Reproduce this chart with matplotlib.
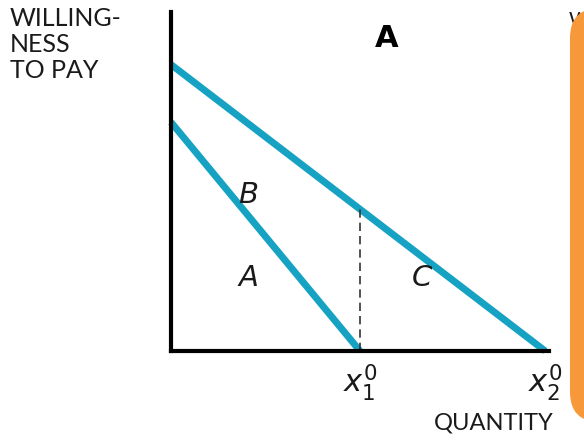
import matplotlib
matplotlib.use("Agg")
import matplotlib.pyplot as plt
from matplotlib.patches import FancyBboxPatch
from matplotlib.transforms import IdentityTransform

# Data
quantities = [1.0, 1.98]          # x1^0, x2^0 (demand intercepts on quantity axis)
wtp_intercepts = [6.75, 8.45]     # willingness-to-pay intercepts (lower, upper)
tick_labels = [r"$x_1^0$", r"$x_2^0$"]
area_labels = ["A", "B", "C"]
area_pos = [(0.41, 2.15), (0.41, 4.6), (1.33, 2.15)]

line_color = "#16A2C3"

fig = plt.figure(figsize=(5.84, 4.40), dpi=100)
ax = fig.add_axes([171/584, 89/440, 378/584, 339/440])
ax.set_xlim(0, 2.0)
ax.set_ylim(0, 10)

for q, w in zip(quantities, wtp_intercepts):
    ax.plot([0, q], [w, 0], color=line_color, lw=5.0, solid_capstyle="butt", clip_on=False)

# dashed vertical at x1^0 up to upper line
upper_at_x1 = wtp_intercepts[1] * (1 - quantities[0] / quantities[1])
ax.plot([quantities[0], quantities[0]], [0, upper_at_x1], color="#333333", lw=1.2,
        ls=(0, (5, 3)))

for s in ["top", "right"]:
    ax.spines[s].set_visible(False)
for s in ["left", "bottom"]:
    ax.spines[s].set_linewidth(3.0)
    ax.spines[s].set_color("black")
ax.set_xticks([])
ax.set_yticks([])

for lab, (x, y) in zip(area_labels, area_pos):
    ax.text(x, y, lab, fontsize=21, style="italic", family="DejaVu Sans",
            ha="center", va="center", color="#1a1a1a")

for q, t in zip(quantities, tick_labels):
    fig.text((171 + q * 189) / 584, 1 - 382/440, t, fontsize=22, ha="center", va="center",
             color="#1a1a1a")

fig.text(387/584, 1 - 38/440, "A", fontsize=22, weight="bold", ha="center", va="center")
fig.text(10/584, 1 - 7/440, "WILLING-\nNESS\nTO PAY", fontsize=18, ha="left", va="top",
         linespacing=1.15, color="#1a1a1a", family="Lato")
fig.text(434/584, 1 - 423/440, "QUANTITY", fontsize=17, ha="left", va="center",
         color="#1a1a1a", family="Lato")
fig.text(569/584, 1 - 20/440, "W", fontsize=14, ha="left", va="center",
         color="#1a1a1a", family="Lato")

# orange overlay panel (pixel coordinates, origin bottom-left)
panel = FancyBboxPatch((570, 440 - 422), 80, 414,
                       boxstyle="round,pad=0,rounding_size=30",
                       transform=IdentityTransform(), facecolor="#F7993A",
                       edgecolor="none", zorder=10)
fig.patches.append(panel)

fig.savefig("out.png", dpi=100)
